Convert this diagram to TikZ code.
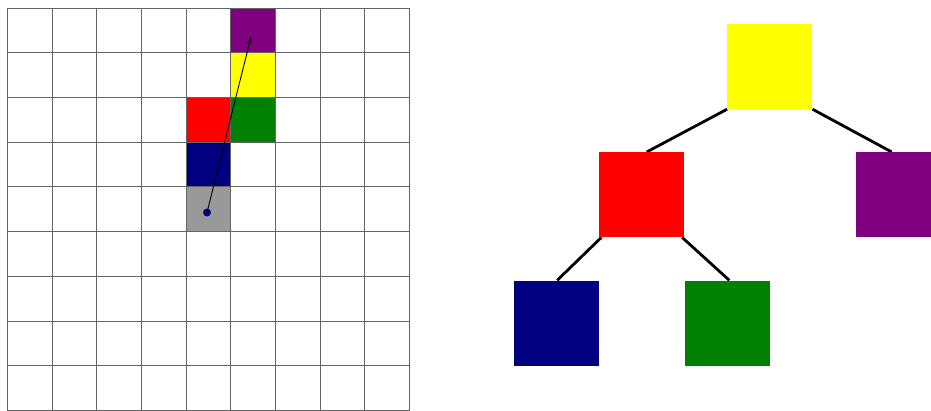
\documentclass[tikz,border=0pt]{standalone}
\usetikzlibrary{arrows.meta,calc}
\definecolor{cyellow}{RGB}{255,255,0}
\definecolor{cred}{RGB}{255,0,0}
\definecolor{cgreen}{RGB}{0,128,0}
\definecolor{cnavy}{RGB}{0,0,128}
\definecolor{cpurple}{RGB}{128,0,128}
\definecolor{cgray}{RGB}{153,153,153}
\definecolor{gridc}{RGB}{100,100,100}
\pgfdeclarelayer{background}
\pgfsetlayers{background,main}
\begin{document}
\begin{tikzpicture}[x=1pt,y=-1pt,
  cell/.style={rectangle,inner sep=0pt,minimum width=44.65pt,minimum height=44.7pt,draw=none},
  sq/.style={rectangle,inner sep=0pt,minimum size=85pt,draw=none},
  treeedge/.style={line width=2.8pt,black},
  gridline/.style={gridc,line width=0.8pt}]
\useasboundingbox (0,0) rectangle (931,410);
\clip (0,0) rectangle (931,410);
% grid cells
\node[cell,fill=cpurple] (gpurple) at (253.1,30.35) {};
\node[cell,fill=cyellow] (gyellow) at (253.1,75.05) {};
\node[cell,fill=cred]    (gred)    at (208.4,119.75) {};
\node[cell,fill=cgreen]  (ggreen)  at (253.1,119.75) {};
\node[cell,fill=cnavy]   (gnavy)   at (208.4,164.45) {};
\node[cell,fill=cgray]   (ggray)   at (208.4,209.15) {};
% grid lines
\foreach \i in {0,...,9} {
  \draw[gridline] ({7.5+44.65*\i},8) -- ({7.5+44.65*\i},412);
  \draw[gridline] (7.5,{8+44.7*\i}) -- (409.35,{8+44.7*\i});
}
% arrow
\node[circle,fill=cnavy,inner sep=0pt,minimum size=8pt] (dot) at (207,212.5) {};
\coordinate (tip) at (251,37);
\draw[-{Stealth[length=7pt,width=4.5pt]},line width=0.9pt] (dot.center) -- (tip);
% tree
\node[sq,fill=cyellow] (yellow) at (769.8,66.5) {};
\node[sq,fill=cred]    (red)    at (641.7,194.7) {};
\node[sq,fill=cpurple] (purple) at (898.2,194.7) {};
\node[sq,fill=cnavy]   (navy)   at (556.2,323) {};
\node[sq,fill=cgreen]  (green)  at (727,323) {};
\begin{pgfonlayer}{background}
\draw[treeedge] (yellow.south west) -- ($(red.north)+(5,0)$);
\draw[treeedge] (yellow.south east) -- ($(purple.north)+(-6.5,0)$);
\draw[treeedge] ($(red.south west)+(2.4,0)$) -- ($(navy.north)+(1,0)$);
\draw[treeedge] ($(red.south east)+(-2.3,0)$) -- ($(green.north)+(2.3,0)$);
\end{pgfonlayer}
\end{tikzpicture}
\end{document}
